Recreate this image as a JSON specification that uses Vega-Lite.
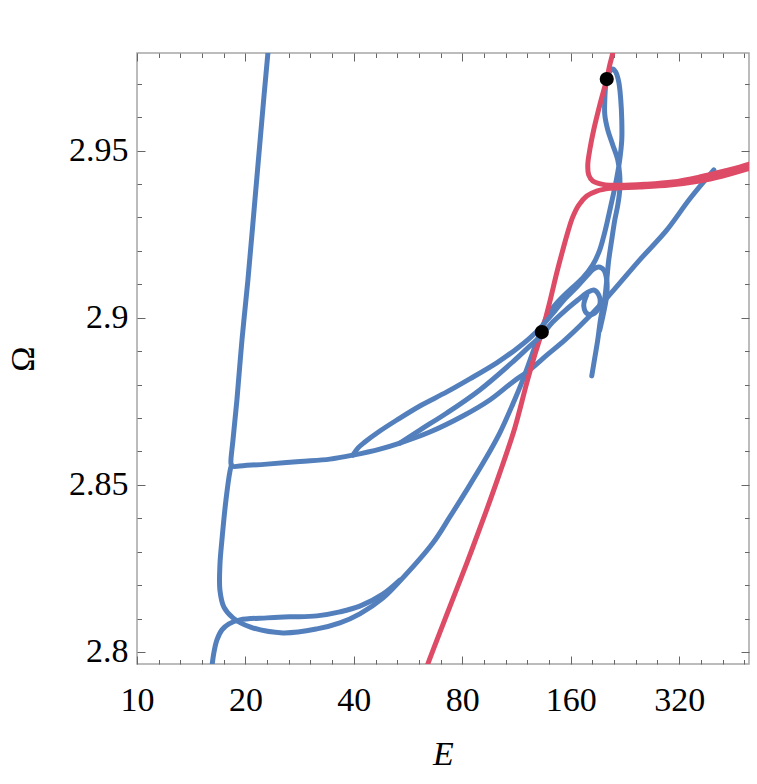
{
  "$schema": "https://vega.github.io/schema/vega-lite/v6.json",
  "width": 612,
  "height": 611,
  "autosize": {"type": "none"},
  "padding": {"left": 137, "top": 53, "right": 8, "bottom": 120},
  "background": "white",
  "config": {
    "view": {"stroke": "#a6a6a6", "strokeWidth": 1.5},
    "axis": {
      "grid": false,
      "domain": false,
      "tickColor": "#666666",
      "tickWidth": 1,
      "labelFont": "Liberation Serif",
      "labelFontSize": 34,
      "labelColor": "black",
      "labelOverlap": false,
      "labelFlush": false,
      "titleFont": "Liberation Serif",
      "titleFontSize": 34,
      "titleFontWeight": "normal",
      "titleColor": "black"
    }
  },
  "datasets": {
    "blue": [
      {"s": "A", "i": 0, "E": 23.24, "W": 2.9816},
      {"s": "A", "i": 1, "E": 23.09, "W": 2.9792},
      {"s": "A", "i": 2, "E": 22.22, "W": 2.9592},
      {"s": "A", "i": 3, "E": 21.25, "W": 2.9352},
      {"s": "A", "i": 4, "E": 20.32, "W": 2.9113},
      {"s": "A", "i": 5, "E": 19.56, "W": 2.8933},
      {"s": "A", "i": 6, "E": 18.94, "W": 2.8754},
      {"s": "A", "i": 7, "E": 18.47, "W": 2.8634},
      {"s": "A", "i": 8, "E": 18.23, "W": 2.8565},
      {"s": "A", "i": 9, "E": 18.35, "W": 2.8556},
      {"s": "A", "i": 10, "E": 19.94, "W": 2.8558},
      {"s": "A", "i": 11, "E": 22.95, "W": 2.8562},
      {"s": "A", "i": 12, "E": 28.33, "W": 2.8570},
      {"s": "A", "i": 13, "E": 34.32, "W": 2.8577},
      {"s": "A", "i": 14, "E": 39.75, "W": 2.8589},
      {"s": "A", "i": 15, "E": 47.23, "W": 2.8607},
      {"s": "A", "i": 16, "E": 53.66, "W": 2.8625},
      {"s": "A", "i": 17, "E": 65.01, "W": 2.8658},
      {"s": "A", "i": 18, "E": 80.26, "W": 2.8706},
      {"s": "A", "i": 19, "E": 95.36, "W": 2.8754},
      {"s": "A", "i": 20, "E": 110.5, "W": 2.8808},
      {"s": "A", "i": 21, "E": 123.1, "W": 2.8844},
      {"s": "A", "i": 22, "E": 137.3, "W": 2.8888},
      {"s": "A", "i": 23, "E": 154.0, "W": 2.8933},
      {"s": "A", "i": 24, "E": 169.5, "W": 2.8975},
      {"s": "A", "i": 25, "E": 201.4, "W": 2.9059},
      {"s": "A", "i": 26, "E": 248.7, "W": 2.9173},
      {"s": "A", "i": 27, "E": 295.5, "W": 2.9262},
      {"s": "A", "i": 28, "E": 342.2, "W": 2.9355},
      {"s": "A", "i": 29, "E": 399.4, "W": 2.9442},
      {"s": "B", "i": 0, "E": 18.29, "W": 2.8559},
      {"s": "B", "i": 1, "E": 18.12, "W": 2.8541},
      {"s": "B", "i": 2, "E": 17.66, "W": 2.8455},
      {"s": "B", "i": 3, "E": 17.21, "W": 2.8335},
      {"s": "B", "i": 4, "E": 16.99, "W": 2.8260},
      {"s": "B", "i": 5, "E": 16.99, "W": 2.8185},
      {"s": "B", "i": 6, "E": 17.43, "W": 2.8134},
      {"s": "B", "i": 7, "E": 18.47, "W": 2.8102},
      {"s": "B", "i": 8, "E": 20.58, "W": 2.8075},
      {"s": "B", "i": 9, "E": 25.41, "W": 2.8057},
      {"s": "B", "i": 10, "E": 31.58, "W": 2.8069},
      {"s": "B", "i": 11, "E": 36.58, "W": 2.8087},
      {"s": "B", "i": 12, "E": 41.56, "W": 2.8114},
      {"s": "B", "i": 13, "E": 48.13, "W": 2.8161},
      {"s": "B", "i": 14, "E": 53.66, "W": 2.8212},
      {"s": "B", "i": 15, "E": 66.28, "W": 2.8326},
      {"s": "B", "i": 16, "E": 73.87, "W": 2.8404},
      {"s": "B", "i": 17, "E": 82.34, "W": 2.8485},
      {"s": "B", "i": 19, "E": 92.37, "W": 2.8574},
      {"s": "B", "i": 20, "E": 101.6, "W": 2.8655},
      {"s": "B", "i": 21, "E": 110.5, "W": 2.8742},
      {"s": "B", "i": 22, "E": 117.8, "W": 2.8814},
      {"s": "B", "i": 23, "E": 127.1, "W": 2.8912},
      {"s": "B", "i": 24, "E": 133.0, "W": 2.8969},
      {"s": "B", "i": 25, "E": 138.1, "W": 2.9008},
      {"s": "B", "i": 26, "E": 147.2, "W": 2.9047},
      {"s": "B", "i": 27, "E": 159.0, "W": 2.9083},
      {"s": "B", "i": 28, "E": 172.8, "W": 2.9119},
      {"s": "B", "i": 29, "E": 184.2, "W": 2.9158},
      {"s": "B", "i": 30, "E": 192.6, "W": 2.9203},
      {"s": "B", "i": 31, "E": 198.9, "W": 2.9256},
      {"s": "B", "i": 32, "E": 204.0, "W": 2.9307},
      {"s": "B", "i": 33, "E": 209.3, "W": 2.9361},
      {"s": "B", "i": 34, "E": 214.7, "W": 2.9418},
      {"s": "B", "i": 35, "E": 218.8, "W": 2.9472},
      {"s": "B", "i": 36, "E": 221.7, "W": 2.9532},
      {"s": "B", "i": 37, "E": 221.7, "W": 2.9592},
      {"s": "B", "i": 38, "E": 220.3, "W": 2.9651},
      {"s": "B", "i": 39, "E": 217.5, "W": 2.9705},
      {"s": "B", "i": 40, "E": 213.3, "W": 2.9735},
      {"s": "B", "i": 41, "E": 209.3, "W": 2.9744},
      {"s": "B", "i": 42, "E": 204.0, "W": 2.9732},
      {"s": "B", "i": 43, "E": 200.2, "W": 2.9696},
      {"s": "B", "i": 44, "E": 198.9, "W": 2.9651},
      {"s": "B", "i": 45, "E": 198.9, "W": 2.9607},
      {"s": "B", "i": 46, "E": 202.7, "W": 2.9562},
      {"s": "B", "i": 47, "E": 209.3, "W": 2.9517},
      {"s": "B", "i": 48, "E": 216.1, "W": 2.9472},
      {"s": "B", "i": 49, "E": 218.8, "W": 2.9427},
      {"s": "B", "i": 50, "E": 218.8, "W": 2.9382},
      {"s": "B", "i": 51, "E": 216.1, "W": 2.9337},
      {"s": "B", "i": 52, "E": 212.0, "W": 2.9292},
      {"s": "B", "i": 53, "E": 207.9, "W": 2.9233},
      {"s": "B", "i": 54, "E": 204.0, "W": 2.9173},
      {"s": "B", "i": 55, "E": 201.4, "W": 2.9113},
      {"s": "B", "i": 56, "E": 198.9, "W": 2.9059},
      {"s": "B", "i": 57, "E": 193.8, "W": 2.8999},
      {"s": "B", "i": 58, "E": 190.1, "W": 2.8933},
      {"s": "B", "i": 59, "E": 186.5, "W": 2.8879},
      {"s": "B", "i": 60, "E": 183.0, "W": 2.8826},
      {"s": "C", "i": 1, "E": 16.10, "W": 2.7946},
      {"s": "C", "i": 2, "E": 16.36, "W": 2.8000},
      {"s": "C", "i": 3, "E": 16.67, "W": 2.8036},
      {"s": "C", "i": 4, "E": 17.21, "W": 2.8066},
      {"s": "C", "i": 5, "E": 18.00, "W": 2.8084},
      {"s": "C", "i": 6, "E": 19.31, "W": 2.8096},
      {"s": "C", "i": 7, "E": 22.95, "W": 2.8102},
      {"s": "C", "i": 8, "E": 26.57, "W": 2.8105},
      {"s": "C", "i": 9, "E": 31.58, "W": 2.8108},
      {"s": "C", "i": 10, "E": 36.58, "W": 2.8120},
      {"s": "C", "i": 11, "E": 41.56, "W": 2.8137},
      {"s": "C", "i": 12, "E": 48.13, "W": 2.8173},
      {"s": "C", "i": 13, "E": 53.66, "W": 2.8215},
      {"s": "U", "i": 1, "E": 39.75, "W": 2.8589},
      {"s": "U", "i": 2, "E": 41.04, "W": 2.8610},
      {"s": "U", "i": 3, "E": 42.91, "W": 2.8628},
      {"s": "U", "i": 4, "E": 47.23, "W": 2.8661},
      {"s": "U", "i": 5, "E": 52.65, "W": 2.8694},
      {"s": "U", "i": 6, "E": 61.00, "W": 2.8736},
      {"s": "U", "i": 7, "E": 72.47, "W": 2.8778},
      {"s": "U", "i": 8, "E": 83.93, "W": 2.8817},
      {"s": "U", "i": 9, "E": 99.72, "W": 2.8865},
      {"s": "U", "i": 10, "E": 111.9, "W": 2.8903},
      {"s": "U", "i": 11, "E": 123.1, "W": 2.8939},
      {"s": "U", "i": 12, "E": 133.8, "W": 2.8978},
      {"s": "U", "i": 13, "E": 144.5, "W": 2.9020},
      {"s": "U", "i": 14, "E": 154.0, "W": 2.9056},
      {"s": "U", "i": 15, "E": 166.3, "W": 2.9092},
      {"s": "U", "i": 16, "E": 177.2, "W": 2.9125},
      {"s": "U", "i": 17, "E": 185.3, "W": 2.9146},
      {"s": "U", "i": 18, "E": 191.4, "W": 2.9152},
      {"s": "U", "i": 19, "E": 197.6, "W": 2.9143},
      {"s": "U", "i": 20, "E": 201.4, "W": 2.9113},
      {"s": "U", "i": 21, "E": 201.4, "W": 2.9068},
      {"s": "U", "i": 22, "E": 197.6, "W": 2.9017},
      {"s": "U", "i": 23, "E": 192.6, "W": 2.8963},
      {"s": "M", "i": 1, "E": 53.66, "W": 2.8625},
      {"s": "M", "i": 2, "E": 61.00, "W": 2.8664},
      {"s": "M", "i": 3, "E": 72.47, "W": 2.8715},
      {"s": "M", "i": 4, "E": 89.46, "W": 2.8784},
      {"s": "M", "i": 5, "E": 110.5, "W": 2.8868},
      {"s": "M", "i": 6, "E": 123.1, "W": 2.8915},
      {"s": "M", "i": 7, "E": 132.1, "W": 2.8945},
      {"s": "M", "i": 8, "E": 142.6, "W": 2.8987},
      {"s": "M", "i": 9, "E": 154.9, "W": 2.9023},
      {"s": "M", "i": 10, "E": 167.3, "W": 2.9053},
      {"s": "M", "i": 11, "E": 177.2, "W": 2.9074},
      {"s": "M", "i": 12, "E": 185.3, "W": 2.9083},
      {"s": "M", "i": 13, "E": 191.4, "W": 2.9068},
      {"s": "M", "i": 14, "E": 192.6, "W": 2.9038},
      {"s": "M", "i": 15, "E": 186.5, "W": 2.9014},
      {"s": "M", "i": 16, "E": 178.4, "W": 2.9011},
      {"s": "M", "i": 17, "E": 173.9, "W": 2.9035},
      {"s": "M", "i": 18, "E": 177.2, "W": 2.9068}
    ],
    "red": [
      {"s": "R1", "i": 1, "E": 63.37, "W": 2.7946},
      {"s": "R1", "i": 2, "E": 64.18, "W": 2.7964},
      {"s": "R1", "i": 3, "E": 72.93, "W": 2.8120},
      {"s": "R1", "i": 4, "E": 82.34, "W": 2.8266},
      {"s": "R1", "i": 5, "E": 92.37, "W": 2.8410},
      {"s": "R1", "i": 6, "E": 101.6, "W": 2.8535},
      {"s": "R1", "i": 7, "E": 111.9, "W": 2.8670},
      {"s": "R1", "i": 8, "E": 120.8, "W": 2.8805},
      {"s": "R1", "i": 9, "E": 127.1, "W": 2.8888},
      {"s": "R1", "i": 10, "E": 133.0, "W": 2.8957},
      {"s": "R1", "i": 11, "E": 139.9, "W": 2.9047},
      {"s": "R1", "i": 12, "E": 146.3, "W": 2.9134},
      {"s": "R1", "i": 13, "E": 152.1, "W": 2.9203},
      {"s": "R1", "i": 14, "E": 157.0, "W": 2.9256},
      {"s": "R1", "i": 15, "E": 162.0, "W": 2.9301},
      {"s": "R1", "i": 16, "E": 168.4, "W": 2.9337},
      {"s": "R1", "i": 17, "E": 177.2, "W": 2.9364},
      {"s": "R1", "i": 18, "E": 188.9, "W": 2.9379},
      {"s": "R1", "i": 19, "E": 205.3, "W": 2.9387},
      {"s": "R1", "i": 20, "E": 248.7, "W": 2.9391},
      {"s": "R1", "i": 21, "E": 301.2, "W": 2.9397},
      {"s": "R1", "i": 22, "E": 364.5, "W": 2.9409},
      {"s": "R1", "i": 23, "E": 422.5, "W": 2.9424},
      {"s": "R1", "i": 24, "E": 495.8, "W": 2.9445},
      {"s": "R1", "i": 25, "E": 535.3, "W": 2.9457},
      {"s": "R2", "i": 1, "E": 535.3, "W": 2.9472},
      {"s": "R2", "i": 2, "E": 495.8, "W": 2.9458},
      {"s": "R2", "i": 3, "E": 428.0, "W": 2.9439},
      {"s": "R2", "i": 4, "E": 364.5, "W": 2.9421},
      {"s": "R2", "i": 5, "E": 307.1, "W": 2.9406},
      {"s": "R2", "i": 6, "E": 256.7, "W": 2.9399},
      {"s": "R2", "i": 7, "E": 218.8, "W": 2.9396},
      {"s": "R2", "i": 8, "E": 196.3, "W": 2.9399},
      {"s": "R2", "i": 9, "E": 184.2, "W": 2.9409},
      {"s": "R2", "i": 10, "E": 179.5, "W": 2.9427},
      {"s": "R2", "i": 11, "E": 178.4, "W": 2.9457},
      {"s": "R2", "i": 12, "E": 180.7, "W": 2.9502},
      {"s": "R2", "i": 13, "E": 185.3, "W": 2.9562},
      {"s": "R2", "i": 14, "E": 192.6, "W": 2.9636},
      {"s": "R2", "i": 15, "E": 201.4, "W": 2.9714},
      {"s": "R2", "i": 16, "E": 205.3, "W": 2.9756},
      {"s": "R2", "i": 17, "E": 209.3, "W": 2.9792},
      {"s": "R2", "i": 18, "E": 210.6, "W": 2.9810}
    ],
    "dots": [
      {"E": 133.0, "W": 2.8957},
      {"E": 201.4, "W": 2.9714}
    ]
  },
  "layer": [
    {
      "data": {"name": "blue"},
      "transform": [{"filter": "datum.s == 'A' || datum.s == 'B' || datum.s == 'C'"}],
      "mark": {"type": "line", "color": "#5380bd", "strokeWidth": 5, "clip": true, "interpolate": "catmull-rom", "strokeCap": "round", "strokeJoin": "round"},
      "encoding": {
        "x": {"field": "E", "type": "quantitative", "scale": {"type": "log", "domain": [10, 500], "nice": false},
          "axis": {"orient": "bottom", "values": [10, 20, 40, 80, 160, 320], "format": "d", "tickSize": -8, "labelPadding": 27, "title": "E", "titleFontStyle": "italic", "titlePadding": 20}},
        "y": {"field": "W", "type": "quantitative", "scale": {"domain": [2.7964, 2.9792], "nice": false, "zero": false},
          "axis": {"orient": "left", "values": [2.8, 2.85, 2.9, 2.95], "format": "~g", "tickSize": -8, "labelPadding": 17, "title": "Ω", "titlePadding": 28}},
        "detail": {"field": "s"},
        "order": {"field": "i"}
      }
    },
    {
      "data": {"name": "red"},
      "mark": {"type": "line", "color": "#dd4b66", "strokeWidth": 5, "clip": true, "interpolate": "catmull-rom", "strokeCap": "round", "strokeJoin": "round"},
      "encoding": {
        "x": {"field": "E", "type": "quantitative",
          "axis": {"orient": "bottom", "values": [11.487, 13.195, 15.157, 17.411, 22.974, 26.390, 30.314, 34.822, 45.948, 52.780, 60.629, 69.644, 91.896, 105.56, 121.26, 139.29, 183.79, 211.12, 242.51, 278.58, 367.58, 422.24, 485.03], "labels": false, "tickSize": -4.5, "title": null}},
        "y": {"field": "W", "type": "quantitative",
          "axis": {"orient": "left", "values": [2.81, 2.82, 2.83, 2.84, 2.86, 2.87, 2.88, 2.89, 2.91, 2.92, 2.93, 2.94, 2.96, 2.97], "labels": false, "tickSize": -4.5, "title": null}},
        "detail": {"field": "s"},
        "order": {"field": "i"}
      }
    },
    {
      "data": {"name": "blue"},
      "transform": [{"filter": "datum.s == 'U' || datum.s == 'M'"}],
      "mark": {"type": "line", "color": "#5380bd", "strokeWidth": 5, "clip": true, "interpolate": "catmull-rom", "strokeCap": "round", "strokeJoin": "round"},
      "encoding": {
        "x": {"field": "E", "type": "quantitative",
          "axis": {"orient": "top", "values": [10, 20, 40, 80, 160, 320], "labels": false, "tickSize": -8, "title": null}},
        "y": {"field": "W", "type": "quantitative",
          "axis": {"orient": "right", "values": [2.8, 2.85, 2.9, 2.95], "labels": false, "tickSize": -8, "title": null}},
        "detail": {"field": "s"},
        "order": {"field": "i"}
      }
    },
    {
      "data": {"name": "dots"},
      "mark": {"type": "circle", "color": "black", "size": 200, "opacity": 1},
      "encoding": {
        "x": {"field": "E", "type": "quantitative",
          "axis": {"orient": "top", "values": [11.487, 13.195, 15.157, 17.411, 22.974, 26.390, 30.314, 34.822, 45.948, 52.780, 60.629, 69.644, 91.896, 105.56, 121.26, 139.29, 183.79, 211.12, 242.51, 278.58, 367.58, 422.24, 485.03], "labels": false, "tickSize": -4.5, "title": null}},
        "y": {"field": "W", "type": "quantitative",
          "axis": {"orient": "right", "values": [2.81, 2.82, 2.83, 2.84, 2.86, 2.87, 2.88, 2.89, 2.91, 2.92, 2.93, 2.94, 2.96, 2.97], "labels": false, "tickSize": -4.5, "title": null}}
      }
    }
  ],
  "resolve": {"axis": {"x": "independent", "y": "independent"}}
}
